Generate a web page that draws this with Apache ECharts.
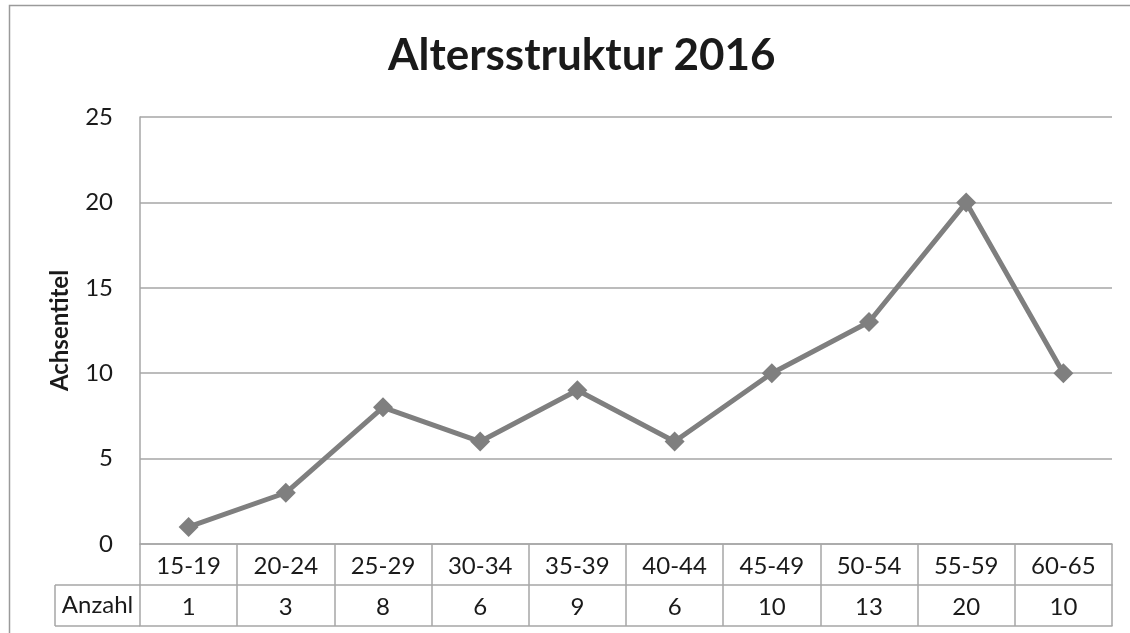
<!DOCTYPE html>
<html>
<head>
<meta charset="utf-8">
<script src="https://cdn.jsdelivr.net/npm/echarts@6/dist/echarts.min.js"></script>
<style>
html,body{margin:0;padding:0;background:#fff;}
#c{width:1130px;height:633px;}
</style>
</head>
<body>
<div id="c"></div>
<script>
const titleText = "Altersstruktur 2016";
const yAxisName = "Achsentitel";
const rowHeader = "Anzahl";
const categories = ["15-19","20-24","25-29","30-34","35-39","40-44","45-49","50-54","55-59","60-65"];
const anzahl = [1, 3, 8, 6, 9, 6, 10, 13, 20, 10];
const yTicks = { min: 0, max: 25, interval: 5 };

const FONT = "Lato, 'Open Sans', sans-serif";
const GRID = { left: 140, right: 18, top: 117, bottom: 89 };
const ROW = 41;
const LINE_C = "#a6a6a6";
const TEXT_C = "#1a1a1a";
const FS = 24;

const chart = echarts.init(document.getElementById('c'), null, { renderer: 'canvas' });

const tableAxisBase = {
  type: 'category',
  position: 'bottom',
  boundaryGap: true,
  axisLine: { show: true, lineStyle: { color: LINE_C, width: 1.5 } },
  axisTick: { show: false },
  axisLabel: { show: true, interval: 0, margin: 10, color: TEXT_C, fontFamily: FONT, fontSize: FS },
  splitLine: { show: false }
};

const gy = 633 - GRID.bottom;

const option = {
  backgroundColor: '#fff',
  animation: false,
  title: {
    text: titleText,
    left: 383,
    top: 29,
    textStyle: { fontFamily: FONT, fontWeight: 'bold', fontSize: 44, color: TEXT_C }
  },
  grid: GRID,
  xAxis: [
    Object.assign({}, tableAxisBase, {
      data: categories,
      axisTick: { show: true, interval: 0, length: ROW * 2, alignWithLabel: false, lineStyle: { color: LINE_C, width: 1.5 } }
    }),
    Object.assign({}, tableAxisBase, {
      data: anzahl.map(String),
      offset: ROW
    }),
    Object.assign({}, tableAxisBase, {
      data: categories,
      offset: ROW * 2,
      axisLabel: { show: false }
    })
  ],
  yAxis: {
    type: 'value',
    min: yTicks.min, max: yTicks.max, interval: yTicks.interval,
    name: yAxisName,
    nameLocation: 'middle',
    nameGap: 68,
    nameTextStyle: { fontFamily: FONT, fontWeight: 'bold', fontSize: FS, color: TEXT_C },
    axisLine: { show: true, lineStyle: { color: LINE_C, width: 1.5 } },
    axisTick: { show: false },
    axisLabel: { margin: 27, color: TEXT_C, fontFamily: FONT, fontSize: FS },
    splitLine: { show: true, lineStyle: { color: LINE_C, width: 1.5 } }
  },
  series: [{
    type: 'line',
    data: anzahl,
    xAxisIndex: 0,
    symbol: 'diamond',
    symbolSize: 20,
    lineStyle: { color: '#7f7f7f', width: 5 },
    itemStyle: { color: '#7f7f7f' }
  }],
  graphic: [
    { type: 'rect', shape: { x: 9.5, y: 5.5, width: 1300, height: 800 }, style: { fill: 'none', stroke: '#9a9a9a', lineWidth: 1.5 }, silent: true, z: -1 },
    { type: 'line', shape: { x1: 55, y1: gy + ROW, x2: GRID.left, y2: gy + ROW }, style: { stroke: LINE_C, lineWidth: 1.5 } },
    { type: 'line', shape: { x1: 55, y1: gy + 2 * ROW, x2: GRID.left, y2: gy + 2 * ROW }, style: { stroke: LINE_C, lineWidth: 1.5 } },
    { type: 'line', shape: { x1: 55, y1: gy + ROW, x2: 55, y2: gy + 2 * ROW }, style: { stroke: LINE_C, lineWidth: 1.5 } },
    { type: 'text', x: (55 + GRID.left) / 2, y: gy + ROW * 1.5, style: { text: rowHeader, fill: TEXT_C, font: FS + 'px ' + FONT, textAlign: 'center', textVerticalAlign: 'middle' } }
  ]
};
chart.setOption(option);
</script>
</body>
</html>
